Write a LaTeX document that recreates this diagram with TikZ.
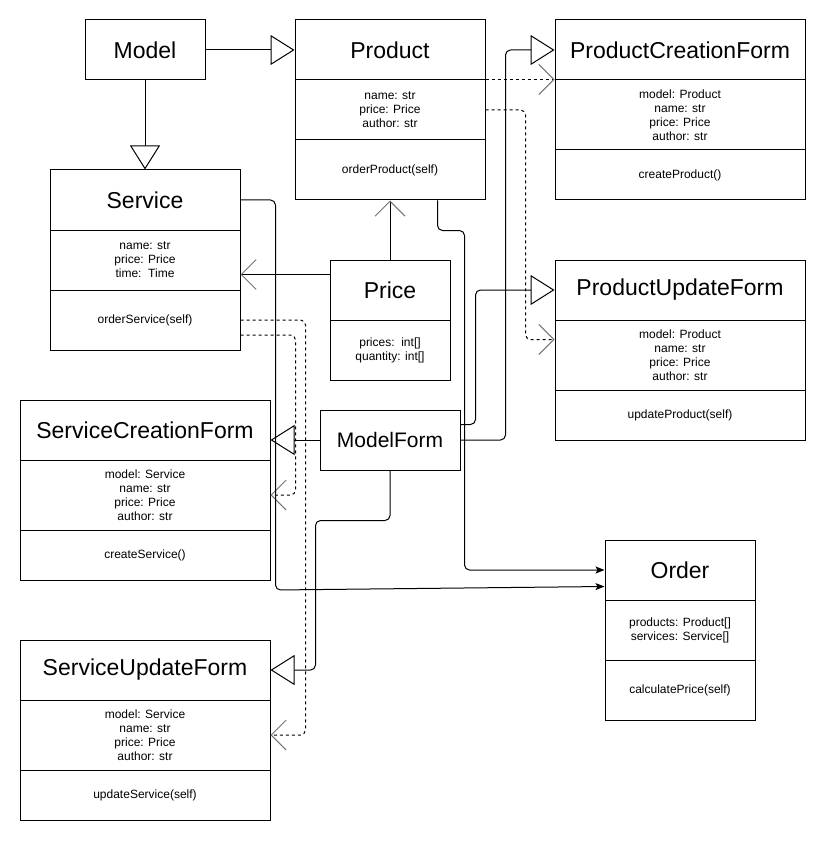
\documentclass[tikz,border=0pt]{standalone}
\usepackage{fontspec}
\setmainfont{Liberation Sans}
\usetikzlibrary{arrows.meta,calc}
\begin{document}
\begin{tikzpicture}[x=1pt,y=-1pt,
  box/.style={draw,line width=1pt,inner sep=0pt,anchor=center},
  ttl/.style={box,font=\fontsize{23}{27}\selectfont},
  sec/.style={box,font=\fontsize{12}{14}\selectfont,align=center},
  link/.style={line width=1pt,rounded corners=5pt},
  inherit/.style={link,-{Triangle[length=24pt,width=30pt,fill=white,line width=1pt]}},
  assoc/.style={link,-{Straight Barb[length=15pt,width=30pt,line width=1pt,color=black!55]}},
  dep/.style={assoc,dash pattern=on 3pt off 3pt},
  call/.style={link,-{Stealth[length=9pt,width=7pt,inset=2pt]}},
]
\useasboundingbox[fill=white] (0,0) rectangle (827,842);

% Model
\node[ttl,minimum width=120pt,minimum height=60pt] (model) at (145,50) {Model};
% Product
\node[ttl,minimum width=190pt,minimum height=60pt] (prod) at (390,50) {Product};
\node[sec,minimum width=190pt,minimum height=60pt] (prod-a) at (390,110) {name: str\\price: Price\\author: str};
\node[sec,minimum width=190pt,minimum height=60pt] (prod-m) at (390,170) {orderProduct(self)};
% Service
\node[ttl,minimum width=190pt,minimum height=60pt] (svc) at (145,200) {Service};
\node[sec,minimum width=190pt,minimum height=60pt] (svc-a) at (145,260) {name: str\\price: Price\\time:\ \ Time};
\node[sec,minimum width=190pt,minimum height=60pt] (svc-m) at (145,320) {orderService(self)};
% ProductCreationForm
\node[ttl,minimum width=250pt,minimum height=60pt] (pcf) at (680,50) {ProductCreationForm};
\node[sec,minimum width=250pt,minimum height=70pt] (pcf-a) at (680,115) {model: Product\\name: str\\price: Price\\author: str};
\node[sec,minimum width=250pt,minimum height=50pt] (pcf-m) at (680,175) {createProduct()};
% ProductUpdateForm
\node[ttl,minimum width=250pt,minimum height=60pt] (puf) at (680,290) {ProductUpdateForm};
\node[sec,minimum width=250pt,minimum height=70pt] (puf-a) at (680,355) {model: Product\\name: str\\price: Price\\author: str};
\node[sec,minimum width=250pt,minimum height=50pt] (puf-m) at (680,415) {updateProduct(self)};
% Price
\node[ttl,minimum width=120pt,minimum height=60pt] (price) at (390,290) {Price};
\node[sec,minimum width=120pt,minimum height=60pt] (price-a) at (390,350) {prices:\ \ int[]\\quantity: int[]};
% ModelForm
\node[box,font=\fontsize{21}{25}\selectfont,minimum width=140pt,minimum height=60pt] (mf) at (390,440) {ModelForm};
% ServiceCreationForm
\node[ttl,minimum width=250pt,minimum height=60pt] (scf) at (145,430) {ServiceCreationForm};
\node[sec,minimum width=250pt,minimum height=70pt] (scf-a) at (145,495) {model: Service\\name: str\\price: Price\\author: str};
\node[sec,minimum width=250pt,minimum height=50pt] (scf-m) at (145,555) {createService()};
% ServiceUpdateForm
\node[ttl,minimum width=250pt,minimum height=60pt] (suf) at (145,670) {ServiceUpdateForm};
\node[sec,minimum width=250pt,minimum height=70pt] (suf-a) at (145,735) {model: Service\\name: str\\price: Price\\author: str};
\node[sec,minimum width=250pt,minimum height=50pt] (suf-m) at (145,795) {updateService(self)};
% Order
\node[ttl,minimum width=150pt,minimum height=60pt] (ord) at (680,570) {Order};
\node[sec,minimum width=150pt,minimum height=60pt] (ord-a) at (680,630) {products: Product[]\\services: Service[]};
\node[sec,minimum width=150pt,minimum height=60pt] (ord-m) at (680,690) {calculatePrice(self)};

% helper coordinates
\coordinate (pricel) at ($(price.north west)+(0,15)$);
\coordinate (ordin) at ($(ord.south west)+(0,-14)$);
\coordinate (mfhi) at ($(mf.north east)+(0,15)$);
\coordinate (pufin) at ($(puf-a.north west)+(0,20)$);
\coordinate (svclo) at ($(svc-m.east)+(0,15)$);
\coordinate (prodout) at ($(prod-m.south west)+(143,0)$);

% inheritance
\draw[inherit] (model.east) -- (prod.west);
\draw[inherit] (model.south) -- (svc.north);
\draw[inherit] (mf.west) -- (scf.east |- mf.west);
\draw[inherit] (mf.south) -- ++(0,50) -| ($(suf.east)+(45,0)$) -- (suf.east);
\draw[inherit] (mfhi) -- ++(15,0) |- (puf.west);
\draw[inherit] (mf.east) -- ++(45,0) |- (pcf.west);

% associations
\draw[assoc] (price.north) -- (prod-m.south);
\draw[assoc] (pricel) -- (svc-a.east |- pricel);

% dependencies
\draw[dep] (prod-a.north east) -- (pcf-a.north west);
\draw[dep] (prod-a.east) -- ++(40,0) |- (pufin);
\draw[dep] (svc-m.east) -- ++(65,0) |- (suf-a.east);
\draw[dep] (svclo) -- ++(55,0) |- (scf-a.east);

% calls to Order
\draw[call] (prodout) -- ++(0,30) -- ++(27,0) |- (ord.west);
\draw[call] (svc.east) -- ++(35,0) -- ++(0,390) -- (ordin);
\end{tikzpicture}
\end{document}
